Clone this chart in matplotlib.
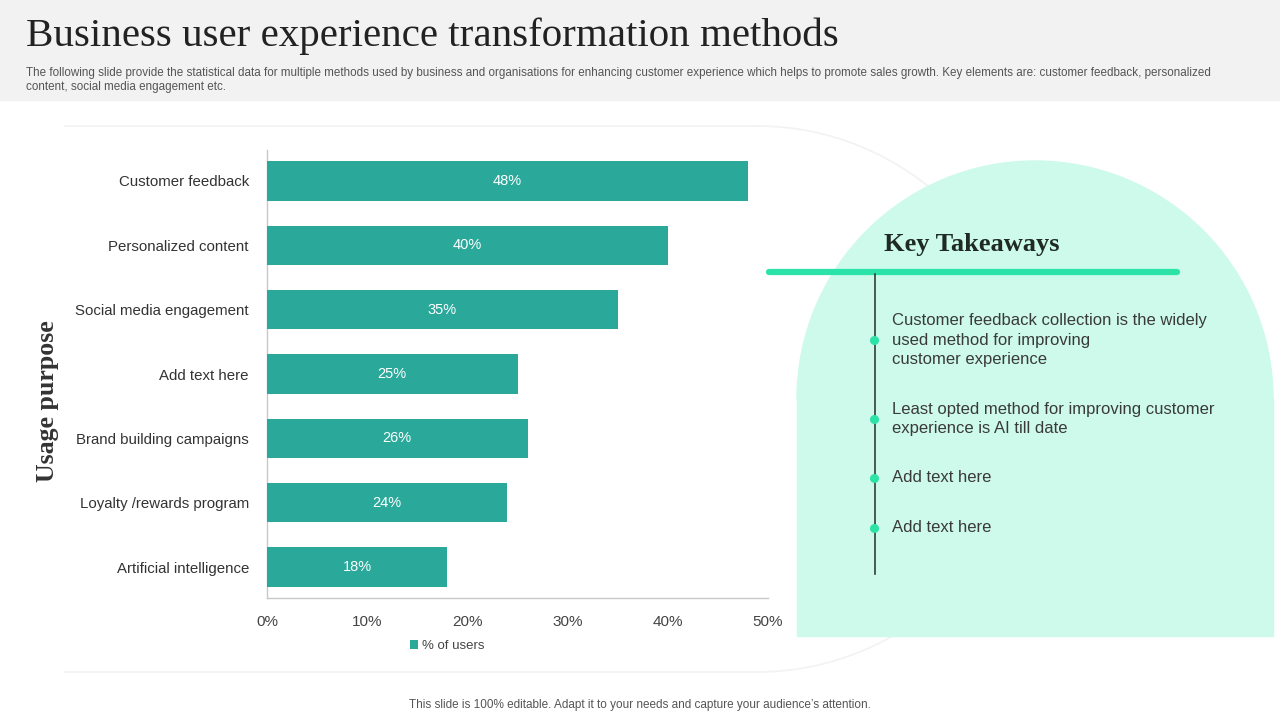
import matplotlib.pyplot as plt
from matplotlib.patches import Rectangle, Wedge, Arc

# chart data
methods = [
    "Customer feedback",
    "Personalized content",
    "Social media engagement",
    "Add text here",
    "Brand building campaigns",
    "Loyalty /rewards program",
    "Artificial intelligence",
]
share_pct = [48, 40, 35, 25, 26, 24, 18]
x_ticks = [0, 10, 20, 30, 40, 50]

takeaways = [
    "Customer feedback collection is the widely\nused method for improving\ncustomer experience",
    "Least opted method for improving customer\nexperience is AI till date",
    "Add text here",
    "Add text here",
]

TEAL = "#2aa99b"
MINT = "#cdfaea"
GREEN = "#2ce3a7"
SANS = ["Liberation Sans", "DejaVu Sans"]
SERIF = ["Liberation Serif", "DejaVu Serif"]

plt.rcParams["font.family"] = SANS

fig = plt.figure(figsize=(12.8, 7.2), dpi=100)

# background / decoration layer in pixel coordinates (y runs downward)
bg = fig.add_axes([0, 0, 1, 1])
bg.set_xlim(0, 1280)
bg.set_ylim(720, 0)
bg.axis("off")

bg.add_patch(Rectangle((0, 0), 1280, 100, color="#f2f2f2", zorder=0))
bg.text(26, 36, "Business user experience transformation methods",
        fontsize=29.5, family=SERIF, color="#222222", va="center", ha="left")
bg.text(26, 73, "The following slide provide the statistical data for multiple methods used by business and organisations "
        "for enhancing customer experience which helps to promote sales growth. Key elements are: customer feedback, personalized",
        fontsize=8.4, color="#555555", va="center", ha="left")
bg.text(26, 87, "content, social media engagement etc.",
        fontsize=8.4, color="#555555", va="center", ha="left")

# faint outline behind chart
faint = "#f3f3f3"
bg.plot([65, 757], [126, 126], color=faint, lw=1.3, zorder=1)
bg.plot([65, 757], [672, 672], color=faint, lw=1.3, zorder=1)
bg.add_patch(Arc((757, 399), 546, 546, theta1=-90, theta2=90, color=faint, lw=1.3, zorder=1))

# key takeaways panel
bg.add_patch(Wedge((1035, 399), 238, 180, 360, color=MINT, zorder=2))
bg.add_patch(Rectangle((797, 398), 476, 238, color=MINT, zorder=2))
bg.plot([769, 1177], [272, 272], color=GREEN, lw=4.5, solid_capstyle="round", zorder=3)
bg.text(884, 245, "Key Takeaways", fontsize=19, fontweight="bold", family=SERIF,
        color="#1f2a24", va="center", ha="left", zorder=4)
bg.plot([875, 875], [274, 574], color="#2f3f3a", lw=1.2, zorder=3)

dot_y = [340, 419, 478, 528]
for dy, item in zip(dot_y, takeaways):
    bg.plot(874, dy, "o", color=GREEN, markersize=5.5, zorder=4)
    bg.text(892, dy, item, fontsize=12, color="#3a3a3a", va="center", ha="left",
            linespacing=1.38, zorder=4)

bg.text(640, 705, "This slide is 100% editable. Adapt it to your needs and capture your audience\u2019s attention.",
        fontsize=8.5, color="#555555", va="center", ha="center")

# bar chart
ax = fig.add_axes([267 / 1280, 1 - 598 / 720, 501 / 1280, 448 / 720])
ax.patch.set_alpha(0)
ypos = list(range(len(methods)))
ax.barh(ypos, share_pct, height=0.61, color=TEAL, label="% of users", zorder=3)
for y, v in zip(ypos, share_pct):
    ax.text(v / 2, y, f"{v}%", color="white", fontsize=10.5, va="center", ha="center", zorder=4)

ax.set_ylim(len(methods) - 0.52, -0.48)
ax.set_xlim(0, 50)
ax.set_yticks(ypos)
ax.set_yticklabels(methods, fontsize=10.8, color="#333333")
ax.set_xticks(x_ticks)
ax.set_xticklabels([f"{t}%" for t in x_ticks], fontsize=11, color="#444444")
ax.tick_params(axis="x", length=0, pad=12)
ax.tick_params(axis="y", length=0, pad=13)
for side in ["top", "right"]:
    ax.spines[side].set_visible(False)
for side in ["left", "bottom"]:
    ax.spines[side].set_color("#c8c8c8")
    ax.spines[side].set_linewidth(1)

ax.set_ylabel("Usage purpose", family=SERIF, fontsize=18.6, fontweight="bold", color="#333333")
ax.yaxis.set_label_coords(-0.415, 0.44)

ax.legend(loc="upper center", bbox_to_anchor=(0.36, -0.068), frameon=False,
          fontsize=9.5, handlelength=0.6, handleheight=0.6, handletextpad=0.3,
          labelcolor="#444444")

fig.savefig("out.png", dpi=100)
